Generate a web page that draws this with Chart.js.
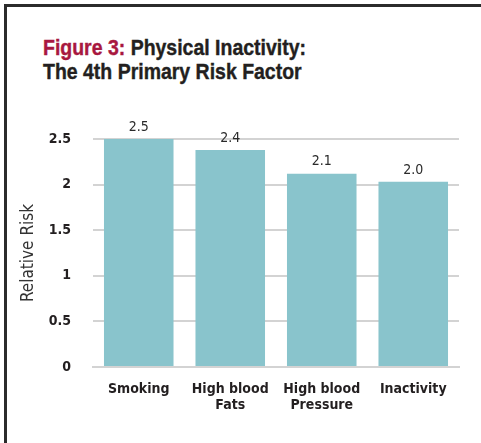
<!DOCTYPE html>
<html>
<head>
    <title>Figure 3</title>
    <style>
        body { margin: 0; background: #fff; }
        #frame {
            position: absolute; left: 4px; top: 4px; width: 477px; height: 437px;
            border-top: 3px solid #2b2b2b; border-left: 3px solid #2b2b2b;
            border-bottom: 2px solid #9a9a9a;
        }
        #heading {
            position: absolute; left: 43px; top: 36px;
            font-family: 'Liberation Sans', Arial, sans-serif;
            font-weight: bold; font-size: 22px; line-height: 24px; color: #231f20;
            -webkit-text-stroke: 0.4px currentColor;
            white-space: nowrap; transform-origin: 0 0;
        }
        #heading .fig { color: #a8173f; }
        #chartWrap { position: absolute; left: 0; top: 0; width: 481px; height: 443px; }
    </style>
</head>
<body>
    <div id="frame"></div>
    <div id="heading"><span id="line1"><span class="fig">Figure 3:</span> Physical Inactivity:</span><br>The 4th Primary Risk Factor</div>
    <div id="chartWrap"><canvas id="riskChart" width="481" height="443"></canvas></div>
    <script src="https://cdn.jsdelivr.net/npm/chart.js"></script>
    <script>
        const categories = [['Smoking'], ['High blood', 'Fats'], ['High blood', 'Pressure'], ['Inactivity']];
        const relativeRisk = [2.5, 2.38, 2.12, 2.03];
        const valueLabels = ['2.5', '2.4', '2.1', '2.0'];
        const yTicks = [0, 0.5, 1, 1.5, 2, 2.5];

        const narrow = "'DejaVu Sans Condensed', 'Liberation Sans', sans-serif";

        // squeeze the heading to look like a condensed face
        const line1 = document.getElementById('line1');
        const squeeze = 263 / line1.getBoundingClientRect().width;
        document.getElementById('heading').style.transform = 'scaleX(' + squeeze + ')';

        // numbers above the bars
        const valueLabelPlugin = {
            id: 'valueLabels',
            afterDatasetsDraw(chart) {
                const ctx = chart.ctx;
                const meta = chart.getDatasetMeta(0);
                ctx.save();
                ctx.font = '14px ' + narrow;
                ctx.fillStyle = '#2a2a2a';
                ctx.textAlign = 'center';
                ctx.textBaseline = 'bottom';
                meta.data.forEach((bar, i) => {
                    ctx.fillText(valueLabels[i], bar.x, bar.y - 5);
                });
                ctx.restore();
            }
        };

        const ctx = document.getElementById('riskChart').getContext('2d');
        new Chart(ctx, {
            type: 'bar',
            data: {
                labels: categories,
                datasets: [{
                    label: 'Relative Risk',
                    data: relativeRisk,
                    backgroundColor: '#89c4cc',
                    barPercentage: 0.76,
                    categoryPercentage: 1
                }]
            },
            options: {
                responsive: false,
                animation: false,
                layout: { padding: { left: 18, right: 22, top: 139, bottom: 0 } },
                plugins: {
                    legend: { display: false },
                    tooltip: { enabled: false }
                },
                scales: {
                    x: {
                        grid: { display: false, drawTicks: false },
                        border: { color: '#d3d3d3', width: 2 },
                        ticks: {
                            color: '#231f20',
                            padding: 15,
                            font: { family: narrow, weight: 'bold', size: 14, lineHeight: 1.1 }
                        },
                        afterFit(scale) { scale.height = 76; }
                    },
                    y: {
                        min: 0,
                        max: 2.5,
                        afterBuildTicks(scale) { scale.ticks = yTicks.map(v => ({ value: v })); },
                        grid: { color: '#d3d3d3', lineWidth: 2, drawTicks: false },
                        border: { display: false },
                        ticks: {
                            color: '#231f20',
                            padding: 22,
                            font: { family: narrow, weight: 'bold', size: 14 },
                            callback: v => String(v)
                        },
                        title: {
                            display: true,
                            text: 'Relative Risk',
                            color: '#333',
                            font: { family: narrow, size: 17 },
                            padding: 0
                        },
                        afterFit(scale) { scale.width = 75; }
                    }
                }
            },
            plugins: [valueLabelPlugin]
        });
    </script>
</body>
</html>
